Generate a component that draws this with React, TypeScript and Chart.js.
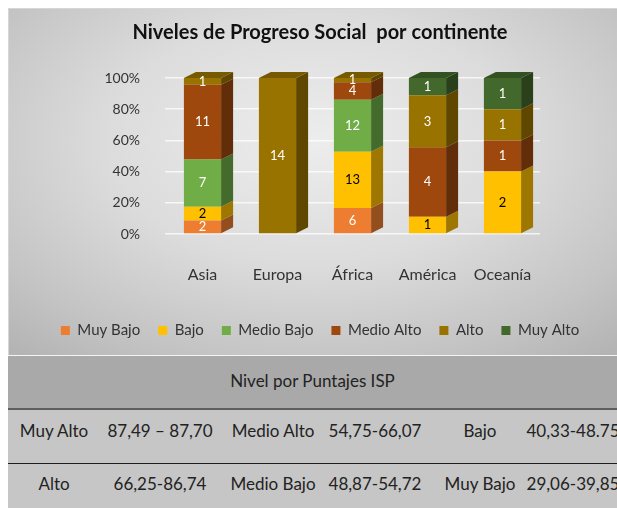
import React, { useEffect, useRef } from "react";
import { Chart, registerables } from "chart.js";

Chart.register(...registerables);

const categories = ["Asia", "Europa", "África", "América", "Oceanía"];
const seriesNames = ["Muy Bajo", "Bajo", "Medio Bajo", "Medio Alto", "Alto", "Muy Alto"];
const muyBajo = [2, 0, 6, 0, 0];
const bajo = [2, 0, 13, 1, 2];
const medioBajo = [7, 0, 12, 0, 0];
const medioAlto = [11, 0, 4, 4, 1];
const alto = [1, 14, 1, 3, 1];
const muyAlto = [0, 0, 0, 1, 1];
const seriesColors = ["#ED7D31", "#FFC000", "#70AD47", "#9E480E", "#997300", "#43682B"];
const labelColors = ["#ffffff", "#000000", "#ffffff", "#ffffff", "#ffffff", "#ffffff"];
const yTicks = [0, 20, 40, 60, 80, 100];

const tableHeader = "Nivel por Puntajes ISP";
const tableRow1 = ["Muy Alto", "87,49 – 87,70", "Medio Alto", "54,75-66,07", "Bajo", "40,33-48.75"];
const tableRow2 = ["Alto", "66,25-86,74", "Medio Bajo", "48,87-54,72", "Muy Bajo", "29,06-39,85"];
const colCenters = [46, 152, 265, 367, 472, 565];

const FONT = "Lato, 'Open Sans', sans-serif";

function shade(hex: string, f: number) {
  const n = parseInt(hex.slice(1), 16);
  const r = Math.round(((n >> 16) & 255) * f);
  const g = Math.round(((n >> 8) & 255) * f);
  const b = Math.round((n & 255) * f);
  return `rgb(${Math.min(255, r)},${Math.min(255, g)},${Math.min(255, b)})`;
}

const allSeries = [muyBajo, bajo, medioBajo, medioAlto, alto, muyAlto];

const bar3d = {
  id: "bar3d",
  afterDatasetsDraw(chart: any) {
    const ctx = chart.ctx;
    const dx = 12;
    const dy = 6;
    ctx.save();
    const topIdx: number[] = categories.map((_, ci) => {
      let t = -1;
      allSeries.forEach((s, si) => {
        if (s[ci] > 0) t = si;
      });
      return t;
    });
    chart.data.datasets.forEach((ds: any, di: number) => {
      const meta = chart.getDatasetMeta(di);
      meta.data.forEach((el: any, ci: number) => {
        if (allSeries[di][ci] <= 0) return;
        const p = el.getProps(["x", "y", "base", "width"], true);
        const left = p.x - p.width / 2;
        const right = p.x + p.width / 2;
        const top = Math.min(p.y, p.base);
        const bottom = Math.max(p.y, p.base);
        ctx.fillStyle = shade(seriesColors[di], 0.62);
        ctx.beginPath();
        ctx.moveTo(right, top);
        ctx.lineTo(right + dx, top - dy);
        ctx.lineTo(right + dx, bottom - dy);
        ctx.lineTo(right, bottom);
        ctx.closePath();
        ctx.fill();
        if (topIdx[ci] === di) {
          ctx.fillStyle = shade(seriesColors[di], 0.78);
          ctx.beginPath();
          ctx.moveTo(left, top);
          ctx.lineTo(left + dx, top - dy);
          ctx.lineTo(right + dx, top - dy);
          ctx.lineTo(right, top);
          ctx.closePath();
          ctx.fill();
        }
      });
    });
    ctx.font = `13px ${FONT}`;
    ctx.textAlign = "center";
    ctx.textBaseline = "middle";
    chart.data.datasets.forEach((ds: any, di: number) => {
      const meta = chart.getDatasetMeta(di);
      meta.data.forEach((el: any, ci: number) => {
        const v = allSeries[di][ci];
        if (v <= 0) return;
        const p = el.getProps(["x", "y", "base"], true);
        ctx.fillStyle = labelColors[di];
        ctx.fillText(String(v), p.x, (p.y + p.base) / 2);
      });
    });
    ctx.restore();
  },
};

export default function App() {
  const ref = useRef<HTMLCanvasElement>(null);
  useEffect(() => {
    if (!ref.current) return;
    const totals = categories.map((_, ci) => allSeries.reduce((a, s) => a + s[ci], 0));
    const chart = new Chart(ref.current, {
      type: "bar",
      data: {
        labels: categories,
        datasets: seriesNames.map((name, si) => ({
          label: name,
          data: allSeries[si].map((v, ci) => (v / totals[ci]) * 100),
          backgroundColor: seriesColors[si],
          borderWidth: 0,
          barPercentage: 0.62,
          categoryPercentage: 0.8,
        })),
      },
      options: {
        animation: false,
        responsive: true,
        maintainAspectRatio: false,
        layout: { padding: { left: 14, right: 0, top: 0, bottom: 7 } },
        plugins: {
          title: {
            display: true,
            text: "Niveles de Progreso Social  por continente",
            color: "#111",
            font: { family: FONT, size: 20, weight: "bold" },
            padding: { top: 12, bottom: 33 },
          },
          legend: {
            position: "bottom",
            labels: {
              boxWidth: 9,
              boxHeight: 9,
              padding: 18,
              color: "#333",
              font: { family: FONT, size: 15 },
            },
          },
          tooltip: { enabled: false },
        },
        scales: {
          x: {
            stacked: true,
            grid: { display: false },
            border: { display: false },
            ticks: { color: "#333", font: { family: FONT, size: 16 }, padding: 23 },
            afterFit: (s: any) => {
              s.height = 71;
            },
          },
          y: {
            stacked: true,
            min: 0,
            max: 100,
            afterBuildTicks: (s: any) => {
              s.ticks = yTicks.map((v) => ({ value: v }));
            },
            afterFit: (s: any) => {
              s.width = 142;
            },
            grid: { color: "rgba(255,255,255,0.75)", lineWidth: 1.5, drawTicks: false },
            border: { display: false },
            ticks: {
              color: "#333",
              padding: 25,
              font: { family: FONT, size: 14 },
              callback: (v: any) => `${v}%`,
            },
          },
          yRight: {
            position: "right",
            display: true,
            min: 0,
            max: 100,
            grid: { display: false, drawTicks: false },
            border: { display: false },
            ticks: { display: false },
            afterFit: (s: any) => {
              s.width = 77;
            },
          },
        },
      },
      plugins: [bar3d],
    });
    return () => chart.destroy();
  }, []);

  const cell = (t: string, i: number, top: number) => (
    <div
      key={i + "-" + top}
      style={{
        position: "absolute",
        left: colCenters[i] - 70,
        width: 140,
        top,
        textAlign: "center",
        whiteSpace: "nowrap",
        fontSize: 17,
        color: "#222",
      }}
    >
      {t}
    </div>
  );

  return (
    <div
      style={{
        position: "fixed",
        left: 8,
        top: 8,
        width: 609,
        height: 500,
        overflow: "hidden",
        fontFamily: FONT,
      }}
    >
      <div
        style={{
          position: "absolute",
          left: 0,
          top: 0,
          width: 609,
          height: 347,
          boxSizing: "border-box",
          borderTop: "1px solid #d6d6d6",
          borderLeft: "1px solid #d6d6d6",
          background:
            "radial-gradient(ellipse 75% 80% at 50% 38%, #ededed 0%, #dcdcdc 45%, #c4c4c4 80%, #b4b4b4 100%)",
        }}
      >
        <div style={{ position: "absolute", left: 0, top: 0, width: 608, height: 346 }}>
          <canvas ref={ref} />
        </div>
      </div>
      <div style={{ position: "absolute", left: 0, top: 347, width: 609, height: 1, background: "#f4f4f4" }} />
      <div style={{ position: "absolute", left: 0, top: 348, width: 609, height: 52, background: "#a9a9a9" }}>
        <div style={{ position: "absolute", left: 0, width: 609, top: 14, textAlign: "center", fontSize: 17, color: "#222" }}>
          {tableHeader}
        </div>
      </div>
      <div style={{ position: "absolute", left: 0, top: 400, width: 609, height: 2, background: "#5e5e5e" }} />
      <div style={{ position: "absolute", left: 0, top: 402, width: 609, height: 53, background: "#c6c6c6" }}>
        {tableRow1.map((t, i) => cell(t, i, 10))}
      </div>
      <div style={{ position: "absolute", left: 0, top: 455, width: 609, height: 1.5, background: "#1e1e1e" }} />
      <div style={{ position: "absolute", left: 0, top: 456, width: 609, height: 44, background: "#c6c6c6" }}>
        {tableRow2.map((t, i) => cell(t, i, 9))}
      </div>
    </div>
  );
}
